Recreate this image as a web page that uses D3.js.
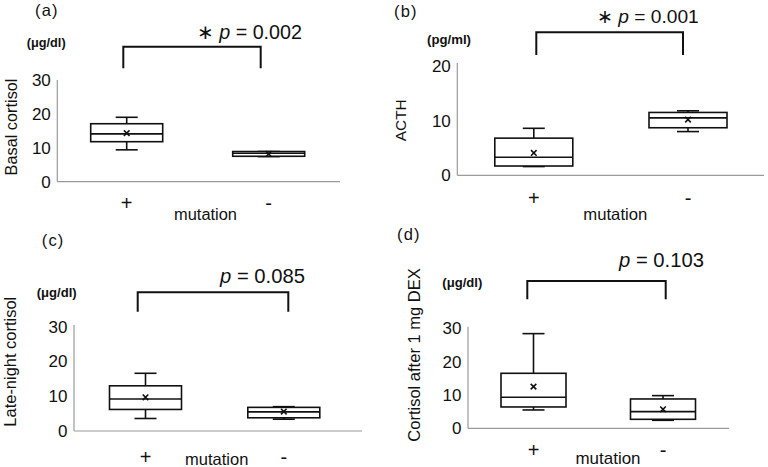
<!DOCTYPE html>
<html><head><meta charset="utf-8">
<script src="https://cdn.jsdelivr.net/npm/d3@7"></script>
<style>body{margin:0;background:#fff}svg{display:block}</style>
</head><body>
<svg id="c" width="768" height="467"></svg>
<script>
// ---- data ----
const groups = ["+", "-"];
const panelLabels = ["(a)", "(b)", "(c)", "(d)"];
const yTitles = ["Basal cortisol", "ACTH", "Late-night cortisol", "Cortisol after 1 mg DEX"];
const units = ["(μg/dl)", "(pg/ml)", "(μg/dl)", "(μg/dl)"];
const pValues = ["0.002", "0.001", "0.085", "0.103"];
const significant = [true, true, false, false];
const yMax = [30, 20, 30, 30];
const yTicks = [[0, 10, 20, 30], [0, 10, 20], [0, 10, 20, 30], [0, 10, 20, 30]];
// stats per group: [min, q1, median, q3, max, mean]
const statsA = [[9.4, 11.8, 14.1, 17.1, 19.0, 14.3], [7.4, 7.5, 8.4, 8.9, 8.9, 8.2]];
const statsB = [[1.6, 1.7, 3.3, 6.8, 8.6, 4.1], [8.0, 8.7, 10.5, 11.5, 11.8, 10.2]];
const statsC = [[3.6, 6.2, 9.2, 13.0, 16.6, 9.7], [3.4, 3.8, 5.5, 6.8, 7.0, 5.6]];
const statsD = [[5.5, 6.4, 9.3, 16.5, 28.4, 12.5], [2.4, 2.7, 5.0, 8.8, 9.8, 5.7]];
const allStats = [statsA, statsB, statsC, statsD];

// ---- layout ----
const layouts = [
  {x0: 57.3, x1: 340, yTop: 80, yBot: 181.7, axTop: 80, centers: [126.7, 268.7], bw: 72,
   lab: [35, 15.7], unit: [46.2, 47, 39], ttl: [17, 127, 97], brX: [123.3, 260.7], brY: 46.7, brLeg: 68.3,
   pX: [196.7, 105], pY: 39, plusY: 209.5, mut: [205.5, 220, 63]},
  {x0: 457.3, x1: 764, yTop: 66, yBot: 175.3, axTop: 63, centers: [533.8, 688], bw: 78,
   lab: [394, 16.5], unit: [449, 44, 44], ttl: [405.5, 120.3, 42], brX: [536.3, 683], brY: 32.3, brLeg: 55,
   pX: [597, 102], pY: 22.7, plusY: 205, mut: [615.3, 219.5, 64]},
  {x0: 74, x1: 362, yTop: 326.7, yBot: 431, axTop: 325, centers: [145.5, 283.8], bw: 72,
   lab: [41.7, 246], unit: [56.7, 297, 40], ttl: [15.5, 361.7, 130], brX: [137.7, 288.3], brY: 292.3, brLeg: 311.7,
   pX: [220, 85], pY: 282.7, plusY: 463.7, mut: [216.7, 465, 63.3]},
  {x0: 468, x1: 729, yTop: 328.3, yBot: 428.3, axTop: 326.7, centers: [533.5, 663], bw: 65,
   lab: [397, 240], unit: [462.3, 287, 40], ttl: [420, 355, 173.7], brX: [527.3, 665.7], brY: 281, brLeg: 299.3,
   pX: [619, 85], pY: 266.7, plusY: 457, mut: [608, 463.5, 65]}
];

const svg = d3.select("#c");
const sans = "'Liberation Sans', Arial, sans-serif";
const ink = "#111";

// scale a text's font size so it spans the target width
function fit(sel, w, base) {
  sel.attr("font-size", base);
  const len = sel.node().getComputedTextLength();
  if (len > 0) sel.attr("font-size", base * w / len);
  return sel;
}

allStats.forEach((stats, i) => {
  const L = layouts[i];
  const g = svg.append("g");
  const y = d3.scaleLinear().domain([0, yMax[i]]).range([L.yBot, L.yTop]);
  const cx = d3.scaleOrdinal().domain(groups).range(L.centers);
  const bw = L.bw;

  // axes
  g.append("line").attr("x1", L.x0).attr("x2", L.x0).attr("y1", L.axTop).attr("y2", L.yBot)
    .attr("stroke", "#9a9a9a").attr("stroke-width", 1.2);
  g.append("line").attr("x1", L.x0).attr("x2", L.x1).attr("y1", L.yBot).attr("y2", L.yBot)
    .attr("stroke", "#9a9a9a").attr("stroke-width", 1.2);
  const yAxis = d3.axisLeft(y).tickValues(yTicks[i]).tickSize(0).tickPadding(6.5);
  const ya = g.append("g").attr("transform", `translate(${L.x0},0)`).call(yAxis);
  ya.select(".domain").remove();
  ya.selectAll("text").attr("font-family", sans).attr("font-size", 17).attr("fill", ink);

  // boxes
  stats.forEach((s, k) => {
    const c = cx(groups[k]);
    const [mn, q1, md, q3, mx, mean] = s;
    const cap = 22;
    const sw = 1.6;
    g.append("line").attr("x1", c).attr("x2", c).attr("y1", y(mx)).attr("y2", y(q3)).attr("stroke", ink).attr("stroke-width", sw);
    g.append("line").attr("x1", c).attr("x2", c).attr("y1", y(q1)).attr("y2", y(mn)).attr("stroke", ink).attr("stroke-width", sw);
    g.append("line").attr("x1", c - cap / 2).attr("x2", c + cap / 2).attr("y1", y(mx)).attr("y2", y(mx)).attr("stroke", ink).attr("stroke-width", sw);
    g.append("line").attr("x1", c - cap / 2).attr("x2", c + cap / 2).attr("y1", y(mn)).attr("y2", y(mn)).attr("stroke", ink).attr("stroke-width", sw);
    g.append("rect").attr("x", c - bw / 2).attr("width", bw).attr("y", y(q3)).attr("height", y(q1) - y(q3))
      .attr("fill", "#fff").attr("stroke", ink).attr("stroke-width", sw);
    g.append("line").attr("x1", c - bw / 2).attr("x2", c + bw / 2).attr("y1", y(md)).attr("y2", y(md)).attr("stroke", ink).attr("stroke-width", sw);
    const m = 2.8, my = y(mean);
    g.append("path").attr("d", `M${c - m},${my - m}L${c + m},${my + m}M${c - m},${my + m}L${c + m},${my - m}`)
      .attr("stroke", ink).attr("stroke-width", 1.6);
  });

  // bracket
  g.append("path").attr("d", `M${L.brX[0]},${L.brLeg}V${L.brY}H${L.brX[1]}V${L.brLeg}`)
    .attr("fill", "none").attr("stroke", ink).attr("stroke-width", 2);
  const pt = g.append("text").attr("x", L.pX[0]).attr("y", L.pY).attr("text-anchor", "start")
    .attr("font-family", sans).attr("fill", ink).attr("xml:space", "preserve").style("white-space", "pre");
  if (significant[i]) pt.append("tspan").text("∗ ");
  pt.append("tspan").attr("font-style", "italic").text("p");
  pt.append("tspan").text(" = " + pValues[i]);
  fit(pt, L.pX[1], 19);

  // labels
  g.append("text").attr("x", L.lab[0]).attr("y", L.lab[1]).attr("font-family", sans)
    .attr("font-size", 16.5).attr("letter-spacing", 1.2).attr("fill", ink).text(panelLabels[i]);
  fit(g.append("text").attr("x", L.unit[0]).attr("y", L.unit[1]).attr("text-anchor", "middle")
    .attr("font-family", sans).attr("font-weight", "bold").attr("fill", ink).text(units[i]), L.unit[2], 11.5);
  fit(g.append("text").attr("transform", `translate(${L.ttl[0]},${L.ttl[1]}) rotate(-90)`).attr("text-anchor", "middle")
    .attr("font-family", sans).attr("fill", ink).text(yTitles[i]), L.ttl[2], 16);
  groups.forEach(gr => {
    g.append("text").attr("x", cx(gr)).attr("y", L.plusY).attr("text-anchor", "middle")
      .attr("font-family", sans).attr("font-size", 20).attr("fill", ink).text(gr);
  });
  fit(g.append("text").attr("x", L.mut[0]).attr("y", L.mut[1]).attr("text-anchor", "middle")
    .attr("font-family", sans).attr("fill", ink).text("mutation"), L.mut[2], 16);
});
</script>
</body></html>
